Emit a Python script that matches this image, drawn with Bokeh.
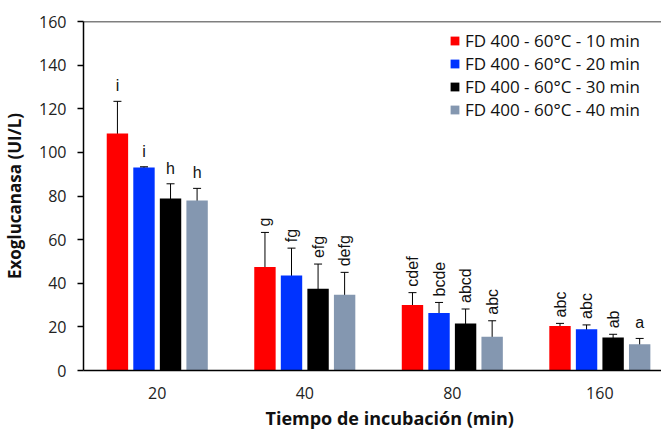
import math
from bokeh.plotting import figure
from bokeh.models import (ColumnDataSource, Whisker, TeeHead, FixedTicker, Legend,
                          LegendItem, Span, Title, Range1d)
from bokeh.core.properties import value
from bokeh.embed import file_html
from bokeh.resources import INLINE

# ---------------- data ----------------
times = ["20", "40", "80", "160"]
series = ["FD 400 - 60°C - 10 min", "FD 400 - 60°C - 20 min",
          "FD 400 - 60°C - 30 min", "FD 400 - 60°C - 40 min"]
mean_10 = [108.7, 47.4, 30.0, 20.4]
mean_20 = [93.1, 43.6, 26.4, 18.9]
mean_30 = [78.9, 37.5, 21.5, 15.1]
mean_40 = [77.9, 34.7, 15.5, 12.0]
sd_10 = [14.7, 15.9, 5.7, 1.2]
sd_20 = [0.3, 12.5, 4.8, 2.0]
sd_30 = [6.7, 11.3, 6.7, 1.5]
sd_40 = [5.6, 10.3, 7.3, 2.7]
letters_10 = ["i", "g", "cdef", "abc"]
letters_20 = ["i", "fg", "bcde", "abc"]
letters_30 = ["h", "efg", "abcd", "ab"]
letters_40 = ["h", "defg", "abc", "a"]
y_ticks = [0, 20, 40, 60, 80, 100, 120, 140, 160]

means = [mean_10, mean_20, mean_30, mean_40]
sds = [sd_10, sd_20, sd_30, sd_40]
letters = [letters_10, letters_20, letters_30, letters_40]

# ---------------- style ----------------
colors = ["#FF0000", "#0033FF", "#000000", "#8497B0"]
# which letter labels are written horizontally (others are rotated 90°)
horizontal = [[True, False, False, False],
              [True, False, False, False],
              [True, False, False, False],
              [True, False, False, True]]
pitch = 0.18
bar_w = 0.145
FONT = "Open Sans"

p = figure(width=661, height=432, output_backend="svg", toolbar_location=None,
           x_range=Range1d(-0.5, 3.418), y_range=Range1d(0, 160),
           min_border_left=80, min_border_right=0, min_border_top=21,
           min_border_bottom=62)
p.outline_line_color = None
p.xgrid.visible = False
p.ygrid.visible = False
p.background_fill_color = "white"
p.border_fill_color = "white"

items = []
for s in range(4):
    xs = [i + (s - 1.5) * pitch for i in range(len(times))]
    src = ColumnDataSource(dict(
        x=xs, top=means[s],
        upper=[m + e for m, e in zip(means[s], sds[s])],
        lower=[m - e for m, e in zip(means[s], sds[s])],
    ))
    r = p.vbar(x="x", top="top", width=bar_w, bottom=0, source=src,
               fill_color=colors[s], line_color=None)
    items.append(LegendItem(label=series[s], renderers=[r]))
    w = Whisker(base="x", upper="upper", lower="lower", source=src,
                line_color="black", line_width=1,
                upper_head=TeeHead(size=8, line_color="black", line_width=1),
                lower_head=TeeHead(size=8, line_color="black", line_width=1))
    p.add_layout(w)

    hx, hy, ht, vx, vy, vt = [], [], [], [], [], []
    for i in range(len(times)):
        if horizontal[s][i]:
            hx.append(xs[i]); hy.append(src.data["upper"][i]); ht.append(letters[s][i])
        else:
            vx.append(xs[i]); vy.append(src.data["upper"][i]); vt.append(letters[s][i])
    p.text(x=hx, y=hy, text=ht, text_align="center", text_baseline="bottom",
           y_offset=-7, text_font=value("Liberation Sans"), text_font_size="16px",
           text_color="#111111")
    p.text(x=vx, y=vy, text=vt, angle=math.pi / 2, text_align="left",
           text_baseline="middle", y_offset=-6,
           text_font=value("Liberation Sans"), text_font_size="16px",
           text_color="#111111")

# top border line
p.add_layout(Span(location=160, dimension="width", line_color="black", line_width=1.5))

# axes
xa = p.xaxis[0]
xa.ticker = FixedTicker(ticks=list(range(len(times))))
xa.major_label_overrides = {i: t for i, t in enumerate(times)}
xa.major_tick_line_color = None
xa.minor_tick_line_color = None
xa.axis_line_color = "black"
xa.axis_line_width = 1.5
xa.major_label_standoff = 10
xa.major_label_text_font = FONT
xa.major_label_text_font_size = "16px"
xa.major_label_text_color = "#222222"

ya = p.yaxis[0]
ya.ticker = FixedTicker(ticks=y_ticks)
ya.minor_tick_line_color = None
ya.major_tick_in = 0
ya.major_tick_out = 6
ya.major_tick_line_color = "black"
ya.major_tick_line_width = 1.5
ya.axis_line_color = "black"
ya.axis_line_width = 1.5
ya.major_label_standoff = 11
ya.major_label_text_font = FONT
ya.major_label_text_font_size = "16px"
ya.major_label_text_color = "#222222"
ya.axis_label = "Exoglucanasa (UI/L)"
ya.axis_label_text_font = FONT
ya.axis_label_text_font_size = "17px"
ya.axis_label_text_font_style = "bold"
ya.axis_label_text_color = "#111111"
ya.axis_label_standoff = 10

xtitle = Title(text="Tiempo de incubación (min)", align="left", offset=182,
               text_font=FONT, text_font_size="18px", text_font_style="bold",
               text_color="#111111", standoff=5)
p.add_layout(xtitle, "below")

legend = Legend(items=items, location=(366, 249), orientation="vertical",
                glyph_width=11, glyph_height=11, label_height=21, spacing=0,
                padding=0, margin=0, label_standoff=5,
                border_line_color=None, background_fill_alpha=0,
                label_text_font=FONT, label_text_font_size="17px",
                label_text_color="#111111")
p.add_layout(legend)

open("out.html", "w").write(file_html(p, INLINE))
